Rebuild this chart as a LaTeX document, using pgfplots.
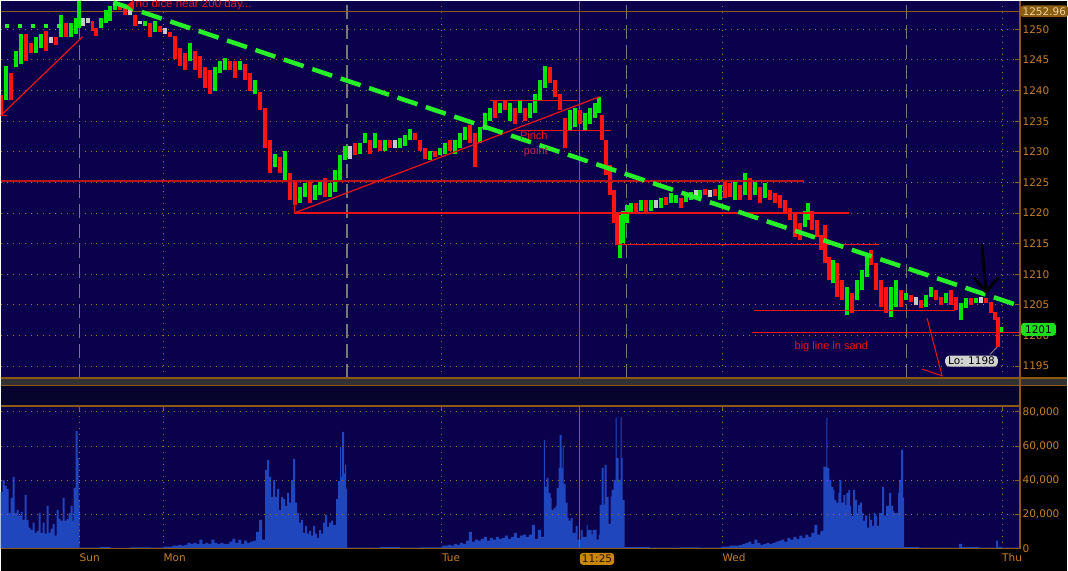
\documentclass[border=0pt]{standalone}
\usepackage{pgfplots}
\pgfplotsset{compat=1.18}
\usepackage{pgfplotstable}
\usepackage{fontspec}
\setmainfont{DejaVu Sans}
\newfontfamily\annfont{Liberation Sans}

\definecolor{bgnavy}{RGB}{11,0,75}
\definecolor{bandnavy}{RGB}{6,4,45}
\definecolor{hatch}{RGB}{50,50,50}
\definecolor{axbrown}{RGB}{140,90,20}
\definecolor{gridor}{RGB}{165,110,30}
\definecolor{lblor}{RGB}{196,128,40}
\definecolor{cgreen}{RGB}{0,230,0}
\definecolor{cred}{RGB}{255,20,20}
\definecolor{cwhite}{RGB}{200,200,200}
\definecolor{trend}{RGB}{40,240,40}
\definecolor{volblue}{RGB}{32,70,190}
\definecolor{annred}{RGB}{235,20,20}
\definecolor{darkred}{RGB}{190,20,25}
\definecolor{sessgray}{RGB}{120,120,120}
\definecolor{cursor}{RGB}{120,100,70}
\definecolor{boxbrown}{RGB}{139,94,18}
\definecolor{boxtext}{RGB}{235,210,160}
\definecolor{boxgreen}{RGB}{30,220,30}
\definecolor{lobox}{RGB}{210,210,210}
\definecolor{tagor}{RGB}{200,134,10}

% candles: x, low, high
\pgfplotstableread{
x l h
5 1238.4 1244.1
15 1243.8 1246.5
20 1244.4 1249.3
35 1246.1 1248.7
40 1247.0 1249.3
60 1248.7 1252.3
70 1248.7 1251.0
75 1249.3 1251.9
78 1250.3 1254.7
101 1250.3 1251.9
106 1251.1 1253.1
110 1251.4 1253.9
115 1253.1 1254.4
145 1250.6 1251.4
155 1249.5 1251.4
190 1244.9 1247.7
215 1240.0 1243.8
220 1242.8 1244.9
225 1243.3 1245.4
240 1243.3 1244.9
255 1239.5 1241.7
275 1227.5 1229.7
285 1225.3 1230.2
300 1221.6 1224.2
305 1222.6 1224.9
315 1222.1 1224.5
320 1222.9 1225.3
330 1222.6 1224.9
335 1223.4 1227.0
340 1225.3 1229.4
345 1228.6 1231.0
360 1229.7 1231.4
365 1231.4 1233.0
375 1230.7 1233.0
385 1230.2 1231.9
400 1230.7 1232.2
405 1231.0 1232.7
410 1231.9 1233.8
430 1228.6 1230.2
440 1229.4 1230.7
445 1229.7 1231.4
455 1229.7 1231.9
460 1230.7 1233.0
465 1231.9 1234.0
480 1231.4 1234.0
485 1233.5 1236.3
490 1235.1 1237.2
500 1236.3 1237.9
510 1235.1 1237.9
520 1236.3 1238.4
530 1235.6 1237.9
535 1236.3 1239.5
540 1238.4 1241.7
545 1240.5 1244.1
570 1233.5 1236.8
575 1234.0 1237.2
585 1233.5 1236.3
590 1234.6 1237.2
595 1235.6 1237.9
599 1236.3 1239.0
620 1212.6 1219.6
623 1215.1 1220.4
627 1218.3 1221.3
631 1220.0 1221.6
641 1220.4 1222.1
651 1220.4 1222.1
661 1220.9 1222.4
671 1221.6 1223.2
676 1221.6 1222.9
686 1221.8 1223.2
691 1222.1 1223.4
701 1222.6 1223.7
721 1222.1 1224.5
736 1222.1 1225.3
746 1222.9 1226.6
756 1222.9 1225.3
766 1222.4 1224.9
806 1217.7 1220.4
809 1218.8 1221.6
834 1208.5 1212.3
848 1203.3 1207.9
858 1205.8 1209.0
863 1207.4 1210.7
868 1209.5 1212.8
892 1203.0 1207.9
897 1204.6 1209.0
907 1205.8 1206.9
927 1204.6 1206.6
932 1206.3 1207.9
947 1205.3 1206.9
962 1202.5 1205.3
967 1204.5 1206.1
977 1205.3 1206.1
1002 1200.4 1201.4
}\greenbars

\pgfplotstableread{
x l h
0 1235.9 1239.2
10 1238.4 1242.8
25 1244.9 1249.3
30 1246.1 1247.7
45 1246.5 1249.8
55 1247.4 1248.7
65 1248.7 1251.0
92 1249.8 1251.4
96 1249.0 1250.3
120 1253.1 1254.2
125 1252.3 1253.9
135 1250.6 1252.3
150 1248.7 1251.1
160 1249.5 1250.6
170 1248.7 1249.5
175 1245.2 1249.0
180 1244.1 1247.0
185 1243.3 1246.1
195 1243.3 1246.5
200 1242.1 1245.7
205 1240.5 1243.8
210 1239.5 1243.3
230 1243.3 1244.9
235 1242.1 1244.9
245 1241.7 1244.4
250 1240.0 1242.8
260 1236.8 1239.8
265 1230.7 1237.2
270 1226.5 1231.9
280 1226.5 1229.1
290 1222.1 1226.5
295 1221.3 1225.3
310 1221.6 1225.3
325 1222.6 1225.8
355 1229.4 1231.4
370 1229.7 1231.9
380 1230.2 1231.9
390 1230.6 1231.9
415 1231.9 1233.0
420 1230.2 1231.9
425 1228.9 1230.7
435 1229.1 1230.2
450 1230.2 1231.9
470 1231.4 1234.3
475 1227.5 1233.0
495 1235.6 1238.4
505 1236.8 1238.4
515 1234.6 1237.2
525 1235.1 1237.2
550 1241.2 1243.8
555 1238.9 1241.7
560 1236.8 1239.5
565 1230.7 1235.6
580 1234.6 1236.8
602 1231.9 1236.0
606 1226.2 1231.9
610 1222.9 1227.8
614 1218.3 1223.7
617 1214.7 1220.0
636 1220.1 1221.6
646 1220.0 1222.1
666 1221.3 1222.6
681 1220.9 1222.4
706 1222.9 1224.0
716 1222.7 1224.0
726 1222.4 1225.0
731 1222.6 1224.9
741 1222.1 1224.5
751 1222.1 1225.8
761 1221.6 1224.2
771 1222.1 1223.7
776 1221.6 1223.2
781 1220.9 1222.9
786 1220.0 1222.1
791 1218.8 1220.9
796 1216.0 1220.0
801 1215.6 1218.3
813 1217.2 1220.4
818 1216.0 1218.8
822 1213.9 1216.4
826 1211.8 1218.0
830 1209.0 1212.8
838 1206.3 1211.8
843 1205.8 1209.0
853 1203.6 1206.9
872 1211.5 1213.9
877 1207.4 1211.8
882 1204.6 1209.0
887 1203.6 1207.9
902 1204.6 1207.4
912 1205.4 1206.6
922 1204.5 1205.8
937 1205.8 1207.4
942 1205.0 1206.3
952 1204.9 1207.4
957 1204.1 1206.3
972 1205.0 1206.1
987 1205.3 1206.1
992 1203.7 1205.4
996 1202.5 1203.8
999 1198.1 1203.0
}\redbars

\pgfplotstableread{
x l h
50 1247.7 1248.7
82 1250.6 1251.8
87 1251.0 1251.8
130 1252.3 1253.4
140 1250.9 1251.4
165 1249.3 1250.3
350 1228.9 1231.0
395 1230.7 1231.9
656 1220.9 1222.1
696 1222.6 1223.7
711 1222.6 1223.7
917 1204.9 1206.3
982 1205.3 1206.3
}\greybars

% volume: x, contracts
\pgfplotstableread{
x v
0 33300
2 40300
4 36800
6 35000
8 21000
10 29800
12 42000
14 21000
16 22800
18 19300
20 21600
22 16900
24 31500
26 16900
28 12300
30 11100
32 15200
34 9300
36 10500
38 21000
40 9300
42 15200
44 8800
46 25100
48 9300
50 11700
52 14600
54 7600
56 22800
58 17500
60 16400
62 29800
64 16400
66 17500
68 21000
70 25100
72 16400
73 35600
75 68900
77 53100
78 28600
79 600
100 900
110 500
130 800
150 600
163 1200
172 1800
178 2300
181 1800
184 2300
187 3500
190 2900
193 3500
196 2900
199 5300
202 2900
205 3500
208 2900
211 5300
214 3500
217 2900
220 3500
223 2900
229 4100
232 5800
235 3500
238 5300
241 2900
244 4700
247 3500
250 4100
253 4700
256 9900
259 16900
262 5300
265 46100
267 52000
269 42000
271 30400
273 40300
275 30400
277 35000
279 22800
281 30400
283 29200
285 25100
287 32700
289 26900
291 40300
293 52600
295 26900
297 21000
299 15200
301 16900
303 9300
305 13400
307 8800
309 10500
311 7600
313 13400
315 8800
317 6400
319 11100
321 8800
323 15200
325 19900
327 12800
329 15200
331 16400
333 14000
336 29200
338 39700
340 59600
341 42000
342 68300
344 43800
345 49100
346 35000
347 600
380 900
400 600
420 800
442 1800
448 2300
451 1800
454 2900
457 2300
460 3500
463 2900
466 4700
469 9900
472 4100
475 5300
478 4700
481 5800
484 7000
487 4700
490 6400
493 5300
496 7000
499 5800
502 6400
505 7600
508 5800
511 7000
514 9300
517 6400
520 7600
523 8200
526 7000
529 8200
532 14000
535 5800
538 11100
541 7000
544 63700
545 36200
547 41500
549 32700
551 29800
552 22800
554 23900
556 25100
557 35600
559 47300
560 66600
562 47300
563 60200
564 38000
566 26900
568 18100
569 16400
571 18100
573 9300
576 13400
578 5300
581 11100
583 7000
587 14000
588 11100
592 8200
593 11100
597 5300
599 8200
600 25700
602 47300
604 25700
605 49100
607 30400
609 14600
611 30400
612 34500
614 40300
616 76500
617 53100
619 40300
621 77100
622 53100
623 28600
625 900
650 600
680 800
700 600
722 1200
730 1800
740 2300
743 2900
746 3500
749 4100
752 2900
755 5300
758 3500
761 2300
764 2900
767 3500
770 2900
773 3500
776 4100
779 4700
782 5300
785 4100
788 6400
791 5300
794 7000
797 5800
800 7600
803 6400
806 8200
809 7000
812 9300
815 14000
818 8200
821 10500
824 47900
827 76500
828 47300
830 40300
832 36200
834 34500
835 28600
837 26900
839 32700
840 40300
842 26900
844 31500
846 25700
847 32700
849 34500
851 25100
852 19300
854 34500
856 28600
858 21000
859 25700
861 26900
863 21000
864 16400
866 19300
868 12300
870 19300
871 16900
873 13400
875 21000
876 19300
878 13400
880 21000
883 36200
885 19300
887 25100
890 32700
892 25100
894 22200
895 21000
899 32700
900 40300
902 57800
904 29800
905 900
920 600
940 700
960 2900
963 900
980 600
997 4700
999 900
1003 600
1021 600
}\voldata

\begin{document}
\begin{tikzpicture}
\begin{scope}[x=1bp,y=1bp]
  \useasboundingbox (0,0) rectangle (1068,571);
  \fill[black] (0,0) rectangle (1068,571);
  \fill[hatch] (0,186) rectangle (1068,193);
  \fill[bandnavy] (0,165) rectangle (1021,185);
\end{scope}

% ---------- price panel ----------
\begin{axis}[
  at={(0bp,193bp)}, anchor=south west,
  scale only axis, width=1021bp, height=378bp,
  xmin=0, xmax=1021, ymin=1193.04, ymax=1254.7,
  axis background/.style={fill=bgnavy},
  axis line style={draw=none},
  xtick=\empty,
  ytick={1195,1200,...,1250},
  ytick pos=right, yticklabel pos=right,
  tick align=inside, major tick length=5bp,
  y tick style={draw=axbrown, line width=1bp},
  yticklabel style={anchor=west, inner xsep=2.5bp, text=lblor,
    font=\fontsize{10.5bp}{12bp}\selectfont},
  /pgf/number format/assume math mode=true,
  /pgf/number format/1000 sep={},
  ymajorgrids,
  grid style={gridor, line width=1bp, dash pattern=on 1bp off 5bp},
]
\pgfplotsinvokeforeach{163,442,723,1003}{
  \draw[gridor, line width=1bp, dash pattern=on 1bp off 5bp]
    (axis cs:#1,1193.04) -- (axis cs:#1,1254.7);
}
\pgfplotsinvokeforeach{79,347,627,907}{
  \draw[sessgray, line width=1.2bp, dash pattern=on 14bp off 6bp]
    (axis cs:#1,1193.04) -- (axis cs:#1,1254.7);
}
\draw[cursor, line width=1.2bp] (axis cs:580,1193.04) -- (axis cs:580,1254.7);
\draw[axbrown, line width=1.3bp] (axis cs:0,1252.96) -- (axis cs:1021,1252.96);

% candles
\addplot[draw=none, mark=none, forget plot,
  error bars/.cd, y dir=plus, y explicit, error mark=none,
  error bar style={draw=cgreen, line width=4bp}]
  table[x=x, y=l, y error plus expr=\thisrow{h}-\thisrow{l}] {\greenbars};
\addplot[draw=none, mark=none, forget plot,
  error bars/.cd, y dir=plus, y explicit, error mark=none,
  error bar style={draw=cred, line width=4bp}]
  table[x=x, y=l, y error plus expr=\thisrow{h}-\thisrow{l}] {\redbars};
\addplot[draw=none, mark=none, forget plot,
  error bars/.cd, y dir=plus, y explicit, error mark=none,
  error bar style={draw=cwhite, line width=4bp}]
  table[x=x, y=l, y error plus expr=\thisrow{h}-\thisrow{l}] {\greybars};

% drawn support / resistance lines
\draw[annred, line width=1.2bp] (axis cs:0,1235.9) -- (axis cs:82,1248.8);
\draw[annred, line width=1.2bp] (axis cs:0,1235.9) -- (axis cs:6,1235.9);
\draw[darkred, line width=2bp] (axis cs:0,1225.2) -- (axis cs:805,1225.2);
\draw[annred, line width=1.2bp] (axis cs:294,1225.2) -- (axis cs:294,1220.0) -- (axis cs:850,1220.0);
\draw[annred, line width=1.2bp] (axis cs:294,1220.0) -- (axis cs:600,1239.0);
\draw[annred, line width=1.5bp] (axis cs:490,1238.4) -- (axis cs:577,1238.4);
\draw[annred, line width=1.5bp] (axis cs:516,1233.5) -- (axis cs:611,1233.5);
\draw[annred, line width=1.2bp] (axis cs:616,1220.0) -- (axis cs:616,1214.9) -- (axis cs:880,1214.9);
\draw[annred, line width=1.2bp] (axis cs:755,1204.1) -- (axis cs:956,1204.1);
\draw[annred, line width=1bp] (axis cs:753,1200.4) -- (axis cs:1021,1200.4);
\draw[annred, line width=1bp] (axis cs:928,1202.8) -- (axis cs:943,1193.4) -- (axis cs:923,1194.5);

% trend lines
\draw[trend, line width=4.5bp, dash pattern=on 21bp off 9bp]
  (axis cs:113,1254.4) -- (axis cs:1021,1204.8);
\draw[trend, line width=4bp, dash pattern=on 4bp off 9bp]
  (axis cs:4,1250.5) -- (axis cs:66,1250.5);

% black arrow
\draw[black, line width=3bp, line cap=round, line join=round]
  (axis cs:983,1214.7) -- (axis cs:987,1207.1);
\draw[black, line width=3bp, line cap=round, line join=round]
  (axis cs:975,1209.4) -- (axis cs:987,1207.1) -- (axis cs:999,1209.4);

% notes
\fill[annred] (axis cs:127,1254.0) -- (axis cs:133.5,1254.9) -- (axis cs:133.5,1253.1) -- cycle;
\node[annred, anchor=west, inner sep=0pt, font=\annfont\fontsize{11.5bp}{13bp}\selectfont]
  at (axis cs:135,1254.0) {no dice near 200 day...};
\node[annred, font=\annfont\fontsize{11bp}{13bp}\selectfont] at (axis cs:534,1232.6) {Pinch};
\node[text={rgb,255:red,190;green,40;blue,80}, font=\annfont\fontsize{11bp}{13bp}\selectfont]
  at (axis cs:536,1230.1) {point};
\node[annred, font=\annfont\fontsize{11bp}{13bp}\selectfont] at (axis cs:832,1198.1) {big line in sand};

\draw[gray, line width=1bp] (axis cs:991,1196.9) -- (axis cs:998,1198.1);
\node[fill=lobox, text=black, rounded corners=4bp, inner xsep=3bp, inner ysep=1.5bp,
  font=\fontsize{10.5bp}{12bp}\selectfont] at (axis cs:972.5,1195.8) {Lo: 1198};

\coordinate (p1253) at (axis cs:1021,1252.96);
\coordinate (p1201) at (axis cs:1021,1201);
\end{axis}

% ---------- volume panel ----------
\begin{axis}[
  at={(0bp,22bp)}, anchor=south west,
  scale only axis, width=1021bp, height=143bp,
  xmin=0, xmax=1021, ymin=0, ymax=83504,
  axis background/.style={fill=bgnavy},
  axis line style={draw=none},
  axis on top,
  xtick={79,163,442,723,1003},
  xticklabels={Sun,Mon,Tue,Wed,Thu},
  xtick style={draw=none},
  xticklabel style={anchor=north west, inner sep=0pt, yshift=-5bp, text=lblor,
    font=\fontsize{10.5bp}{12bp}\selectfont},
  ytick={0,20000,40000,60000,80000},
  yticklabels={0,{20,000},{40,000},{60,000},{80,000}},
  scaled y ticks=false,
  ytick pos=right, yticklabel pos=right,
  tick align=inside, major tick length=5bp,
  y tick style={draw=axbrown, line width=1bp},
  yticklabel style={anchor=west, inner xsep=2.5bp, text=lblor,
    font=\fontsize{10.5bp}{12bp}\selectfont},
  xmajorgrids, ymajorgrids,
  grid style={gridor, line width=1bp, dash pattern=on 1bp off 5bp},
]
\addplot[const plot, fill=volblue, draw=none] table[x=x, y=v] {\voldata} \closedcycle;
\draw[cursor, line width=1.2bp] (axis cs:580,0) -- (axis cs:580,83504);
\pgfplotsinvokeforeach{79,163,442,723,1003}{
  \draw[axbrown, line width=1bp] (axis cs:#1,83504) -- (axis cs:#1,80500);
}
\coordinate (v1125) at (axis cs:580,0);
\end{axis}

% frames and tags
\begin{scope}[x=1bp,y=1bp]
  \draw[axbrown, line width=1.3bp] (1021,571) -- (1021,22);
  \draw[axbrown, line width=1.3bp] (0,193) -- (1068,193);
  \draw[axbrown, line width=1.3bp] (0,185.5) -- (1068,185.5);
  \draw[axbrown, line width=1.3bp] (0,165) -- (1021,165);
  \draw[axbrown, line width=1.3bp] (0,22) -- (1021,22);
\end{scope}

\node[fill=boxbrown, text=boxtext, rounded corners=3bp, inner xsep=2bp, inner ysep=2bp,
  anchor=west, font=\fontsize{10.5bp}{12bp}\selectfont] at ([xshift=0.5bp]p1253) {1252.96};
\node[fill=boxgreen, text=black, rounded corners=3bp, inner xsep=4bp, inner ysep=2.5bp,
  anchor=west, font=\fontsize{10.5bp}{12bp}\selectfont] at ([xshift=1bp]p1201) {1201};
\node[fill=tagor, text={rgb,255:red,40;green,20;blue,0}, rounded corners=3bp, inner xsep=2bp,
  inner ysep=2bp, anchor=north west, font=\fontsize{10.5bp}{12bp}\selectfont]
  at ([yshift=-4bp]v1125) {11:25};
\end{tikzpicture}
\end{document}
